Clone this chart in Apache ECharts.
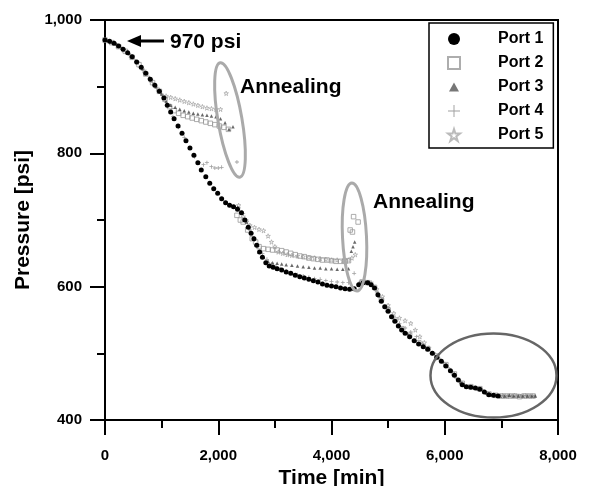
<!DOCTYPE html>
<html>
<head>
<meta charset="utf-8">
<script src="https://cdn.jsdelivr.net/npm/echarts@6/dist/echarts.min.js"></script>
<style>
    html, body { margin: 0; padding: 0; background: #fff; }
    #chart { width: 592px; height: 486px; }
</style>
</head>
<body>
<div id="chart"></div>
<script>
// [time (min), pressure (psi)]
const port1 = [[0,970],[80,968],[160,965],[240,961],[320,956],[400,951],[480,945],[560,937],[640,929],[720,920],[800,911],[880,902],[960,893],[1040,883],[1100,872],[1160,862],[1220,852],[1290,841],[1360,830],[1430,819],[1500,808],[1570,797],[1640,786],[1700,775],[1780,765],[1850,755],[1920,747],[1990,740],[2060,732],[2130,726],[2200,722],[2270,720],[2340,716],[2410,711],[2470,700],[2530,689],[2580,680],[2630,672],[2680,662],[2730,652],[2780,644],[2840,636],[2900,631],[2970,629],[3040,627],[3120,625],[3200,622],[3280,620],[3360,617],[3440,615],[3520,613],[3600,611],[3680,609],[3760,607],[3840,604],[3920,602],[4000,601],[4080,600],[4160,598],[4240,597],[4320,596],[4400,597],[4480,603],[4560,606],[4640,606],[4700,603],[4760,598],[4820,588],[4880,578],[4940,570],[5000,563],[5060,555],[5120,548],[5180,541],[5240,535],[5300,530],[5380,525],[5460,519],[5540,514],[5620,510],[5700,506],[5780,500],[5860,494],[5940,488],[6020,481],[6100,474],[6170,467],[6240,460],[6310,453],[6380,450],[6460,449],[6540,448],[6620,446],[6700,442],[6780,438],[6860,437],[6940,436]];

const port2 = [[0,970],[120,966],[240,960],[360,953],[480,944],[600,933],[720,919],[840,906],[960,893],[1060,881],[1140,870],[1220,864],[1300,860],[1380,857],[1460,855],[1540,853],[1620,851],[1700,849],[1780,847],[1860,845],[1940,843],[2020,841],[2100,839],[2180,836],[2330,707],[2390,700],[2440,697],[2520,685],[2600,672],[2660,667],[2720,660],[2800,657],[2880,656],[2960,655],[3040,655],[3120,654],[3200,652],[3280,650],[3360,648],[3440,646],[3520,645],[3600,643],[3680,642],[3760,641],[3840,640],[3920,640],[4000,639],[4080,638],[4160,638],[4240,638],[4300,639],[4330,685],[4370,682],[4390,705],[4470,697],[4540,607],[4640,606],[4760,599],[4880,580],[5000,565],[5120,550],[5240,537],[5380,527],[5540,516],[5700,507],[5860,496],[6020,483],[6170,469],[6310,455],[6460,450],[6620,447],[6780,439],[6900,437],[7000,436],[7080,436],[7160,436],[7240,436],[7320,435],[7400,436],[7480,436],[7560,436]];

const port3 = [[0,970],[100,967],[200,964],[300,958],[420,950],[540,939],[660,927],[780,914],[900,900],[1000,889],[1080,878],[1160,872],[1240,869],[1320,866],[1400,864],[1480,862],[1560,860],[1640,859],[1720,858],[1800,857],[1880,856],[1960,855],[2040,852],[2120,846],[2190,836],[2260,840],[2340,719],[2420,712],[2500,697],[2580,680],[2660,663],[2720,652],[2800,644],[2880,638],[2960,636],[3040,635],[3120,634],[3200,633],[3300,632],[3400,631],[3500,630],[3600,629],[3700,628],[3800,628],[3900,627],[4000,627],[4100,626],[4200,626],[4300,627],[4350,653],[4380,660],[4410,667],[4500,605],[4600,607],[4720,603],[4840,586],[4960,570],[5080,555],[5200,542],[5340,530],[5480,520],[5640,511],[5800,500],[5960,488],[6120,474],[6280,457],[6420,450],[6580,447],[6740,440],[6880,437],[6980,436],[7060,436],[7140,437],[7220,436],[7300,436],[7380,436],[7460,436],[7540,436],[7600,436]];

const port4 = [[0,970],[140,965],[280,959],[420,949],[560,937],[700,922],[840,906],[980,890],[1100,872],[1200,855],[1300,839],[1400,824],[1500,808],[1580,795],[1660,786],[1740,783],[1800,786],[1880,780],[1940,778],[2000,778],[2060,779],[2330,787],[2360,718],[2440,710],[2500,700],[2560,685],[2640,670],[2700,660],[2780,650],[2860,641],[2940,634],[3020,630],[3100,627],[3200,623],[3300,620],[3400,618],[3500,616],[3600,614],[3700,612],[3800,611],[3900,609],[4000,608],[4100,607],[4200,606],[4300,606],[4400,620],[4500,606],[4600,606],[4700,604],[4800,592],[4900,580],[5000,568],[5100,555],[5200,545],[5300,538],[5400,532],[5500,525],[5600,515],[5700,507],[5800,500],[5900,492],[6060,479],[6200,463],[6340,452],[6500,449],[6660,445],[6820,438],[6940,436],[7020,437],[7100,436],[7180,436],[7260,436],[7340,436],[7420,437],[7500,436],[7580,436]];

const port5 = [[0,969],[110,967],[220,962],[330,955],[450,947],[570,936],[690,924],[810,910],[930,897],[1030,886],[1080,886],[1160,884],[1240,882],[1320,880],[1400,878],[1480,876],[1560,874],[1640,872],[1720,870],[1800,868],[1880,867],[1960,866],[2040,866],[2140,890],[2360,722],[2440,705],[2500,697],[2560,692],[2640,689],[2720,686],[2800,684],[2880,676],[2940,667],[3000,660],[3060,652],[3140,650],[3220,648],[3300,647],[3400,646],[3500,645],[3600,644],[3700,643],[3800,642],[3900,641],[4000,640],[4100,640],[4200,639],[4300,640],[4360,643],[4420,648],[4520,607],[4600,607],[4700,606],[4800,596],[4900,585],[5000,572],[5100,560],[5200,553],[5300,549],[5400,545],[5480,535],[5560,525],[5640,516],[5720,508],[5800,500],[5880,493],[6000,484],[6140,471],[6280,457],[6440,450],[6600,447],[6760,440],[6900,437],[6990,436],[7070,436],[7150,436],[7230,437],[7310,436],[7390,436],[7470,436],[7550,436]];

const portNames = ['Port 1', 'Port 2', 'Port 3', 'Port 4', 'Port 5'];

const FONT = 'Liberation Sans, Arial, sans-serif';
const plusPath = 'path://M4,0h2v4h4v2h-4v4h-2v-4h-4v-2h4z';
const thinPlus = 'path://M4.6,0h0.8v4.6h4.6v0.8h-4.6v4.6h-0.8v-4.6h-4.6v-0.8h4.6z';
const starPath = 'path://M5,0L6.18,3.8L10,3.8L6.9,6.2L8.1,10L5,7.6L1.9,10L3.1,6.2L0,3.8L3.82,3.8Z';
// smaller triangle for the legend (tiny corner dots widen the bounds)
const triIcon = 'path://M-1,-1.5h0.01v0.01zM11,10.5h0.01v0.01zM5,0L10,9L0,9Z';

const fmt = v => v.toLocaleString('en-US');

let myChart = echarts.init(document.getElementById('chart'));

let option = {
    animation: false,
    backgroundColor: '#fff',
    grid: {
        left: 105, right: 34, top: 20, bottom: 66,
        outerBoundsMode: 'none',
        show: true, borderColor: '#000', borderWidth: 2
    },
    legend: {
        orient: 'vertical',
        left: 429, top: 23,
        padding: [8, 10, 5, 18],
        itemWidth: 12, itemHeight: 12, itemGap: 8,
        borderColor: '#000', borderWidth: 1.5,
        textStyle: { fontFamily: FONT, fontSize: 16, fontWeight: 'bold', color: '#000', padding: [0, 0, 0, 33] },
        data: [
            { name: 'Port 1' },
            { name: 'Port 2' },
            { name: 'Port 3', icon: triIcon, itemStyle: { color: '#555' } },
            { name: 'Port 4', icon: thinPlus },
            { name: 'Port 5' }
        ]
    },
    xAxis: {
        type: 'value', min: 0, max: 8000, interval: 2000,
        name: 'Time [min]', nameLocation: 'middle', nameGap: 44,
        nameTextStyle: { fontFamily: FONT, fontSize: 21, fontWeight: 'bold', color: '#000' },
        axisLine: { lineStyle: { color: '#000', width: 2 } },
        axisTick: { length: 15, lineStyle: { color: '#000', width: 2 } },
        minorTick: { show: true, splitNumber: 2, length: 8, lineStyle: { color: '#000', width: 2 } },
        axisLabel: { margin: 28, formatter: fmt, fontFamily: FONT, fontSize: 15, fontWeight: 'bold', color: '#000' },
        splitLine: { show: false }
    },
    yAxis: {
        type: 'value', min: 400, max: 1000, interval: 200,
        name: 'Pressure [psi]', nameLocation: 'middle', nameGap: 68,
        nameTextStyle: { fontFamily: FONT, fontSize: 21, fontWeight: 'bold', color: '#000' },
        axisLine: { show: true, lineStyle: { color: '#000', width: 2 } },
        axisTick: { show: true, length: 15, lineStyle: { color: '#000', width: 2 } },
        minorTick: { show: true, splitNumber: 2, length: 8, lineStyle: { color: '#000', width: 2 } },
        axisLabel: { margin: 23, formatter: fmt, fontFamily: FONT, fontSize: 15, fontWeight: 'bold', color: '#000' },
        splitLine: { show: false }
    },
    series: [
        {
            name: portNames[0], type: 'scatter', data: port1, z: 5,
            symbol: 'circle', symbolSize: 5,
            itemStyle: { color: '#000', opacity: 1 }
        },
        {
            name: portNames[1], type: 'scatter', data: port2, z: 3,
            symbol: 'rect', symbolSize: 4.5,
            itemStyle: { color: 'rgba(255,255,255,0)', borderColor: '#999', borderWidth: 1 }
        },
        {
            name: portNames[2], type: 'scatter', data: port3, z: 4,
            symbol: 'triangle', symbolSize: 3.5,
            itemStyle: { color: '#444' }
        },
        {
            name: portNames[3], type: 'scatter', data: port4, z: 3,
            symbol: plusPath, symbolSize: 4,
            itemStyle: { color: '#888' }
        },
        {
            name: portNames[4], type: 'scatter', data: port5, z: 2,
            symbol: starPath, symbolSize: 4.5,
            itemStyle: { color: 'rgba(255,255,255,0)', borderColor: '#aaa', borderWidth: 1 }
        }
    ],
    // annotations: arrow, labels and ellipses
    graphic: [
        { type: 'rect', shape: { x: 138, y: 39.5, width: 26, height: 3 }, style: { fill: '#000' } },
        { type: 'polygon', shape: { points: [[127, 41], [141, 35], [141, 47]] }, style: { fill: '#000' } },
        { type: 'text', x: 170, y: 42, style: { text: '970 psi', fill: '#000', font: 'bold 21px ' + FONT, verticalAlign: 'middle' } },
        { type: 'text', x: 240, y: 87, style: { text: 'Annealing', fill: '#000', font: 'bold 21px ' + FONT, verticalAlign: 'middle' } },
        { type: 'text', x: 373, y: 202, style: { text: 'Annealing', fill: '#000', font: 'bold 21px ' + FONT, verticalAlign: 'middle' } },
        { type: 'ellipse', x: 230, y: 120, rotation: 0.17, shape: { cx: 0, cy: 0, rx: 12, ry: 58 },
            style: { fill: 'none', stroke: '#aaa', lineWidth: 3 }, z: 10 },
        { type: 'ellipse', x: 354.5, y: 237, rotation: 0.05, shape: { cx: 0, cy: 0, rx: 12, ry: 54 },
            style: { fill: 'none', stroke: '#aaa', lineWidth: 3 }, z: 10 },
        { type: 'ellipse', x: 493.5, y: 375.5, shape: { cx: 0, cy: 0, rx: 63, ry: 42 },
            style: { fill: 'none', stroke: '#666', lineWidth: 2.5 }, z: 10 }
    ]
};

myChart.setOption(option);
</script>
</body>
</html>
